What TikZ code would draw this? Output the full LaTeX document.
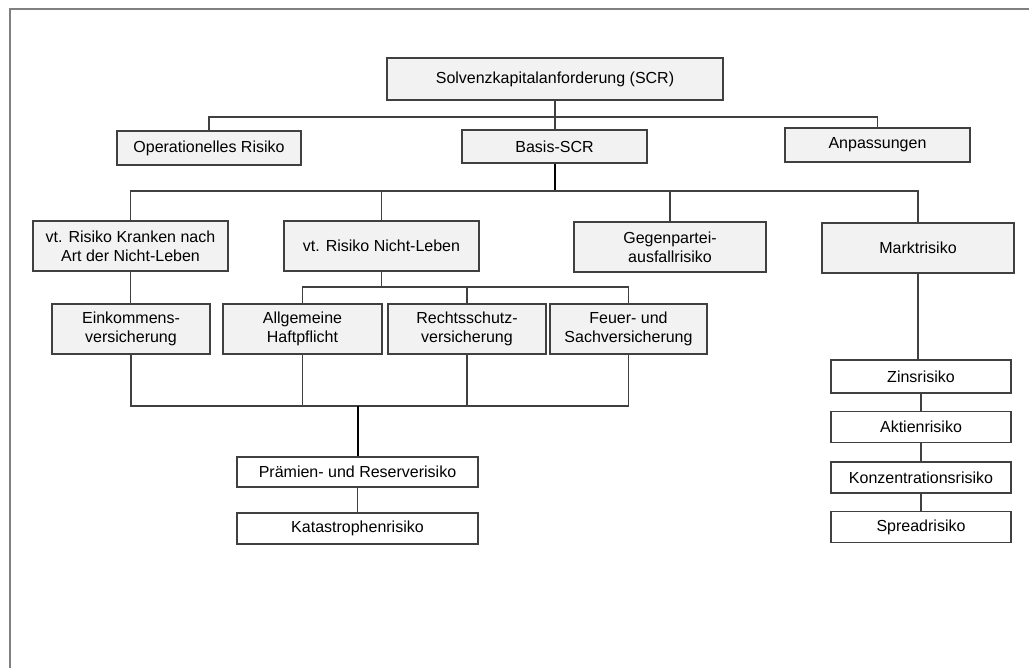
\documentclass[tikz,border=0pt]{standalone}
\usepackage{fontspec}
\setmainfont{Liberation Sans}
\usetikzlibrary{calc}
\definecolor{boxgray}{HTML}{F2F2F2}
\definecolor{linegray}{HTML}{404040}
\tikzset{
  box/.style={draw=linegray, line width=1.1pt, fill=boxgray, align=center,
    inner sep=0pt, font=\fontsize{12}{14}\selectfont},
  wbox/.style={box, fill=white},
  sz/.style 2 args={minimum width=#1*0.75pt, minimum height=#2*0.75pt},
  conn/.style={draw=linegray, line width=0.8pt},
  bold conn/.style={draw=black, line width=1.5pt}
}
\begin{document}
\begin{tikzpicture}[x=0.75pt,y=-0.75pt]
      \useasboundingbox (0,0) rectangle (1029,668);
      \draw[draw=gray, line width=0.8pt] (10,668) -- (10,9) -- (1029,9);

      \node[box, sz={336}{42}] (scr) at (555,79) {Solvenzkapitalanforderung (SCR)};
      \node[box, sz={184}{34}] (opr) at (209,148) {Operationelles Risiko};
      \node[box, sz={185}{33}] (basis) at (554.5,146.5) {Basis-SCR};
      \node[box, sz={185}{34}] (anp) at (877.5,145) {Anpassungen};

      \node[box, sz={195}{50}] (kranken) at (130.5,246) {vt. Risiko Kranken nach\\Art der Nicht-Leben};
      \node[box, sz={195}{50}] (nleben) at (381.5,246) {vt. Risiko Nicht-Leben};
      \node[box, sz={192}{50}] (gegen) at (670,247) {Gegenpartei-\\ausfallrisiko};
      \node[box, sz={192}{50}] (markt) at (918,248) {Marktrisiko};

      \node[box, sz={158}{50}] (eink) at (131,329) {Einkommens-\\versicherung};
      \node[box, sz={159}{50}] (allg) at (302.5,329) {Allgemeine\\Haftpflicht};
      \node[box, sz={158}{50}] (recht) at (467,329) {Rechtsschutz-\\versicherung};
      \node[box, sz={157}{50}] (feuer) at (628.5,329) {Feuer- und\\Sachversicherung};

      \node[wbox, sz={241}{30}] (praem) at (357.5,472) {Prämien- und Reserverisiko};
      \node[wbox, sz={241}{31}] (kata) at (357.5,528.5) {Katastrophenrisiko};

      \node[wbox, sz={180}{33}] (zins) at (921,376.5) {Zinsrisiko};
      \node[wbox, sz={180}{31}] (aktien) at (921,427) {Aktienrisiko};
      \node[wbox, sz={180}{31}] (konz) at (921,477.5) {Konzentrationsrisiko};
      \node[wbox, sz={180}{31}] (spread) at (921,527) {Spreadrisiko};

      \coordinate (bus1) at (555,117);
      \coordinate (bus2) at (555,191);
      \coordinate (bus3) at (382,287);
      \coordinate (bus4) at (357.5,406);

      % SCR -> first level
      \draw[conn] (scr.south) -- (scr.south |- basis.north);
      \draw[conn] (opr.north) |- (anp.north |- bus1) -- (anp.north);

      % Basis-SCR -> modules
      \draw[bold conn] (basis.south) -- (basis.south |- bus2);
      \draw[conn] (kranken.north) |- (markt.north |- bus2) -- (markt.north);
      \draw[conn] (nleben.north) -- (nleben.north |- bus2);
      \draw[conn] (gegen.north) -- (gegen.north |- bus2);

      \draw[conn] (kranken.south) -- (kranken.south |- eink.north);
      \draw[conn] (nleben.south) -- (nleben.south |- bus3);
      \draw[conn] (allg.north) |- (feuer.north |- bus3) -- (feuer.north);
      \draw[conn] (recht.north) -- (recht.north |- bus3);

      \draw[conn] (eink.south) |- (feuer.south |- bus4) -- (feuer.south);
      \draw[conn] (allg.south) -- (allg.south |- bus4);
      \draw[conn] (recht.south) -- (recht.south |- bus4);
      \draw[bold conn] (praem.north) -- (praem.north |- bus4);
      \draw[conn] (praem.south) -- (kata.north);

      % Marktrisiko
      \draw[conn] (markt.south) -- (markt.south |- zins.north);
      \draw[conn] (zins) -- (aktien) (aktien) -- (konz) (konz) -- (spread);
    \end{tikzpicture}
\end{document}
